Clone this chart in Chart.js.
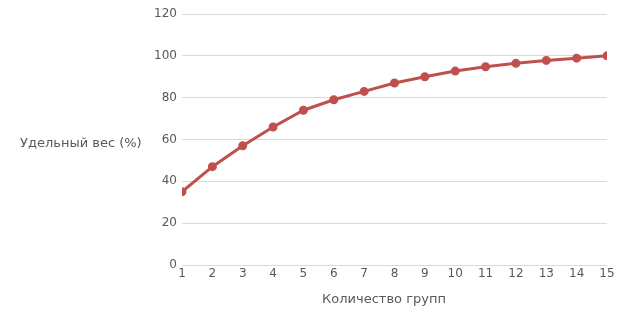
<!DOCTYPE html>
<html>
<head>
<meta charset="utf-8">
<script src="https://cdn.jsdelivr.net/npm/chart.js@4/dist/chart.umd.min.js"></script>
<style>
  html, body { margin: 0; padding: 0; background: #fff; }
  #wrap { width: 628px; height: 328px; }
</style>
</head>
<body>
<div id="wrap"><canvas id="myChartLine"></canvas></div>
<script>
// group count on x, share in % on y
const groups = [1, 2, 3, 4, 5, 6, 7, 8, 9, 10, 11, 12, 13, 14, 15];
const share = [35, 47, 57, 66, 74, 79, 83, 87, 90, 92.7, 94.8, 96.4, 97.8, 98.9, 100];
const yTicks = [0, 20, 40, 60, 80, 100, 120];

const yTitle = 'Удельный вес (%)';
const xTitle = 'Количество групп';
const textColor = '#595959';
const fontFamily = '"DejaVu Sans", sans-serif';

// axis titles drawn by hand: the y one is horizontal, the x one sits a bit left of centre
const axisTitles = {
    id: 'axisTitles',
    afterDraw(chart) {
        const ctx = chart.ctx;
        const area = chart.chartArea;
        ctx.save();
        ctx.font = '13px ' + fontFamily;
        ctx.fillStyle = textColor;
        ctx.textBaseline = 'middle';
        ctx.textAlign = 'left';
        ctx.fillText(yTitle, 20, (area.top + area.bottom) / 2 + 4);
        ctx.textAlign = 'center';
        ctx.fillText(xTitle, 384, area.bottom + 35);
        ctx.restore();
    }
};

const data1 = {
    datasets: [{
        label: yTitle,
        data: groups.map((g, i) => ({x: g, y: share[i]})),
        borderColor: '#C0504D',
        backgroundColor: '#C0504D',
        borderWidth: 3,
        pointRadius: 3,
        pointHoverRadius: 3,
        tension: 0
    }]
};

const config1 = {
    type: 'line',
    data: data1,
    plugins: [axisTitles],
    options: {
        responsive: true,
        maintainAspectRatio: false,
        animation: false,
        layout: { padding: { top: 14, right: 21, left: 0, bottom: 0 } },
        plugins: {
            legend: { display: false },
            tooltip: { enabled: false }
        },
        scales: {
            x: {
                type: 'linear',
                min: 1,
                max: 15,
                grid: { display: false, drawTicks: false },
                border: { display: false },
                ticks: {
                    stepSize: 1,
                    color: textColor,
                    font: { family: fontFamily, size: 12 },
                    padding: 2,
                    maxRotation: 0
                },
                afterFit(scale) { scale.height = 63; }
            },
            y: {
                min: 0,
                max: 120,
                afterBuildTicks(scale) { scale.ticks = yTicks.map(v => ({value: v})); },
                grid: { color: '#d9d9d9', lineWidth: 1, drawTicks: false },
                border: { display: false },
                ticks: {
                    color: textColor,
                    font: { family: fontFamily, size: 12 },
                    padding: 5
                },
                afterFit(scale) { scale.width = 182; }
            }
        }
    }
};

const ctx1 = document.getElementById('myChartLine').getContext('2d');
const myChart1 = new Chart(ctx1, config1);
</script>
</body>
</html>
